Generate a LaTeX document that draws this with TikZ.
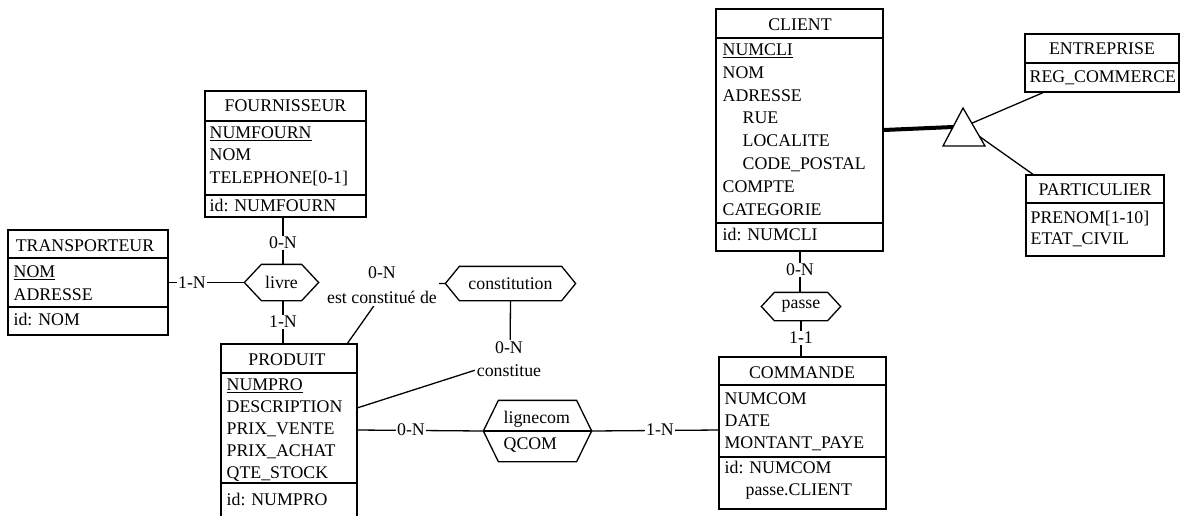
\documentclass[tikz,border=0pt]{standalone}
\usepackage{fontspec}
\setmainfont{Liberation Serif}
\newfontfamily\diafont{Liberation Serif}
\usetikzlibrary{backgrounds,calc}
\newcommand{\drawhex}[2]{\draw ([xshift=#2]#1.north west) -- ([xshift=-#2]#1.north east) -- (#1.east) -- ([xshift=-#2]#1.south east) -- ([xshift=#2]#1.south west) -- (#1.west) -- cycle;}
\begin{document}
\begin{tikzpicture}[x=1pt,y=-1pt, line width=1.3pt, line join=miter,
  font=\diafont\fontsize{17.8}{23}\selectfont,
  ebox/.style={draw, inner sep=0pt},
  hexbox/.style={inner sep=0pt},
  hdr/.style={inner sep=0pt, text height=11.8pt, text depth=0pt},
  attr/.style={anchor=west, inner sep=0pt, text height=11.8pt, text depth=0pt},
  card/.style={fill=white, inner sep=1.5pt, text height=11.8pt, text depth=0pt},
  role/.style={fill=white, inner sep=2pt, align=center},
  conn/.style={line width=1.3pt},
  isaline/.style={line width=4pt}]
\useasboundingbox (0,0) rectangle (1193,515);

% ---------------- TRANSPORTEUR
\node[ebox, minimum width=160pt, minimum height=105pt] (transp) at (88,282.5) {};
\draw (8,258) -- (168,258);
\draw (8,307) -- (168,307);
\node[hdr] (transpH) at (85,246) {TRANSPORTEUR};
\node[attr] (transp1) at (13,272) {\underline{NOM}};
\node[attr] (transp2) at (13,295) {ADRESSE};
\node[attr] (transp3) at (13,320) {id: NOM};

% ---------------- FOURNISSEUR
\node[ebox, minimum width=161pt, minimum height=126pt] (fourn) at (285.5,154) {};
\draw (205,121) -- (366,121);
\draw (205,195) -- (366,195);
\node[hdr] (fournH) at (285.5,106) {FOURNISSEUR};
\node[attr] (fourn1) at (209,133) {\underline{NUMFOURN}};
\node[attr] (fourn2) at (209,155) {NOM};
\node[attr] (fourn3) at (209,178) {TELEPHONE[0-1]};
\node[attr] (fourn4) at (209,206) {id: NUMFOURN};

% ---------------- PRODUIT
\node[ebox, minimum width=136pt, minimum height=176pt] (prod) at (289,432) {};
\draw (221,373) -- (357,373);
\draw (221,483) -- (357,483);
\node[hdr] (prodH) at (287,360) {PRODUIT};
\node[attr] (prod1) at (226,385) {\underline{NUMPRO}};
\node[attr] (prod2) at (226,407) {DESCRIPTION};
\node[attr] (prod3) at (226,429) {PRIX\_VENTE};
\node[attr] (prod4) at (226,451) {PRIX\_ACHAT};
\node[attr] (prod5) at (226,473) {QTE\_STOCK};
\node[attr] (prod6) at (226,500) {id: NUMPRO};

% ---------------- COMMANDE
\node[ebox, minimum width=167pt, minimum height=152pt] (cmd) at (802.5,433) {};
\draw (719,385) -- (886,385);
\draw (719,457) -- (886,457);
\node[hdr] (cmdH) at (802,373) {COMMANDE};
\node[attr] (cmd1) at (724,399) {NUMCOM};
\node[attr] (cmd2) at (724,421) {DATE};
\node[attr] (cmd3) at (724,443) {MONTANT\_PAYE};
\node[attr] (cmd4) at (724,468) {id: NUMCOM};
\node[attr] (cmd5) at (745,490) {passe.CLIENT};

% ---------------- CLIENT
\node[ebox, minimum width=167pt, minimum height=242pt] (client) at (799.5,130) {};
\draw (716,38) -- (883,38);
\draw (716,223) -- (883,223);
\node[hdr] (clientH) at (800,25) {CLIENT};
\node[attr] (client1) at (722,50) {\underline{NUMCLI}};
\node[attr] (client2) at (722,73) {NOM};
\node[attr] (client3) at (722,96) {ADRESSE};
\node[attr] (client4) at (742,118) {RUE};
\node[attr] (client5) at (742,141) {LOCALITE};
\node[attr] (client6) at (742,164) {CODE\_POSTAL};
\node[attr] (client7) at (722,187) {COMPTE};
\node[attr] (client8) at (722,210) {CATEGORIE};
\node[attr] (client9) at (722,235) {id: NUMCLI};

% ---------------- ENTREPRISE
\node[ebox, minimum width=154pt, minimum height=58pt] (entr) at (1102,63) {};
\draw (1025,63) -- (1179,63);
\node[hdr] (entrH) at (1102,49) {ENTREPRISE};
\node[attr] (entr1) at (1029,77) {REG\_COMMERCE};

% ---------------- PARTICULIER
\node[ebox, minimum width=138pt, minimum height=81pt] (part) at (1095,215.5) {};
\draw (1026,203) -- (1164,203);
\node[hdr] (partH) at (1095,190) {PARTICULIER};
\node[attr] (part1) at (1030,218) {PRENOM[1-10]};
\node[attr] (part2) at (1030,239) {ETAT\_CIVIL};

% ---------------- relationship types
\node[hexbox, minimum width=73pt, minimum height=35pt] (livre) at (281.5,282.5) {livre};
\drawhex{livre}{17pt}
\node[hexbox, minimum width=129pt, minimum height=33pt] (constit) at (510.5,283.5) {constitution};
\drawhex{constit}{14pt}
\node[hexbox, minimum width=107pt, minimum height=60pt] (ligne) at (537.5,431) {};
\drawhex{ligne}{15pt}
\draw (ligne.west) -- (ligne.east);
\node[attr] (ligneT) at (503,418) {lignecom};
\node[attr] (ligneQ) at (503,444) {QCOM};
\node[hexbox, minimum width=78pt, minimum height=27pt] (passe) at (801,306.5) {passe};
\drawhex{passe}{13pt}

% ---------------- ISA triangle
\coordinate (tA) at (963,108);
\coordinate (tL) at (943,146);
\coordinate (tR) at (985,146);
\draw (tA) -- (tL) -- (tR) -- cycle;

% ---------------- role labels
\node[card] (c1) at (283,243) {0-N};
\node[card] (c2) at (283,322) {1-N};
\node[card] (c3) at (192,283) {1-N};
\node[role] (c4) at (382,285.5) {0-N\\[2pt]est constitué de};
\node[role] (c5) at (509,359.5) {0-N\\constitue};
\node[card] (c6) at (411,430) {0-N};
\node[card] (c7) at (660,430) {1-N};
\node[card] (c8) at (800,270) {0-N};
\node[card] (c9) at (801,338) {1-1};

\coordinate (bend1) at (390,283);
\coordinate (prodNE) at (347,344);
\coordinate (bend2) at (510,359);
\coordinate (prodDesc) at (357,408);
\coordinate (prodVente) at (357,430);
\coordinate (cmdW) at (719,430);

\begin{pgfonlayer}{background}
\draw[conn] (fourn.south -| c1) -- (livre.north -| c1);
\draw[conn] (livre.south -| c2) -- (prod.north -| c2);
\draw[conn] (transp.east |- livre.west) -- (livre.west);
\draw[conn] (constit.west) -- (bend1) -- (prodNE);
\draw[conn] (constit.south) -- (bend2) -- (prodDesc);
\draw[conn] (prodVente) -- (ligne.west);
\draw[conn] (ligne.east) -- (cmdW);
\draw[conn] (client.south -| c8) -- (passe.north -| c8);
\draw[conn] (passe.south) -- (cmd.north -| passe.south);
\draw[isaline] (client.east) -- ($(tA)!0.5!(tL)$);
\draw[conn] ($(tA)!0.4!(tR)$) -- (entr.south west -| 1043,0);
\draw[conn] ($(tA)!0.75!(tR)$) -- (part.north west -| 1033,0);
\end{pgfonlayer}
\end{tikzpicture}
\end{document}
